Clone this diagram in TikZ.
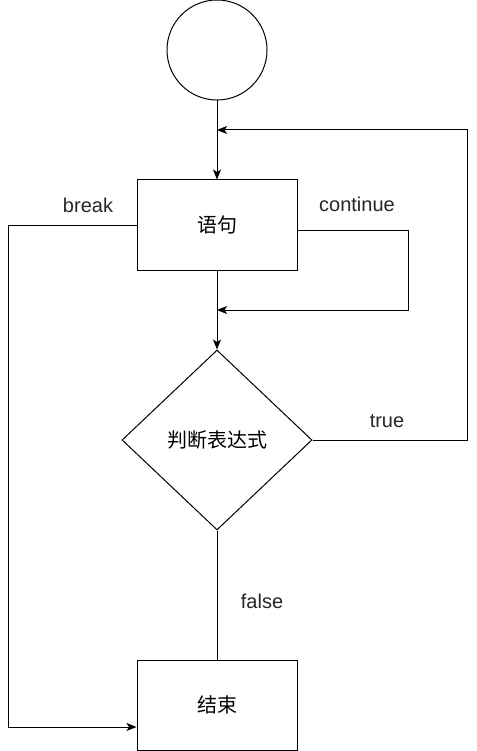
\documentclass[tikz,border=0pt]{standalone}
\usepackage{fontspec}
\setmainfont{Liberation Sans}
\newfontfamily\cjk{Noto Sans CJK SC}
\usepackage{tikz}
\usetikzlibrary{arrows.meta, positioning, shapes.geometric}

\tikzset{
  box/.style={draw=black, line width=1pt, minimum width=160pt, minimum height=90pt, inner sep=0pt, font=\fontsize{20}{24}\selectfont\cjk},
  decide/.style={draw=black, line width=1pt, diamond, minimum width=190pt, minimum height=180pt, inner sep=0pt, font=\fontsize{20}{24}\selectfont\cjk},
  lbl/.style={font=\fontsize{20}{24}\selectfont, text=black!85},
  flow/.style={draw=black, line width=1pt},
  arr/.style={flow, -{Stealth[length=10pt, width=8pt, inset=2.5pt]}}
}

\begin{document}
\begin{tikzpicture}[x=1pt, y=-1pt]
\useasboundingbox (0,0) rectangle (476,751);
% nodes
\node[draw=black, line width=1pt, circle, minimum size=100pt, inner sep=0pt] (start) at (217,50) {};
\node[box] (stmt) at (217,225) {语句};
\node[decide] (cond) at (217,440) {判断表达式};
\node[box] (finish) at (217,705) {结束};
\coordinate (join1) at (217,130);
\coordinate (join2) at (217,310);
% labels
\node[lbl] (lbreak) at (88,205) {break};
\node[lbl] (lcont) at (357,204) {continue};
\node[lbl] (ltrue) at (387,421) {true};
\node[lbl] (lfalse) at (262,601) {false};
% main flow
\draw[arr] (start) -- (stmt);
\draw[arr] (stmt) -- (cond);
\draw[flow] (cond) -- (finish);
% loops
\draw[arr] (cond.east) -- (467,440) |- (join1);
\draw[arr] ([yshift=-5pt]stmt.east) -- (408,230) |- (join2);
\draw[arr] (stmt.west) -- (8,225) |- ([yshift=-22pt]finish.west);
\end{tikzpicture}
\end{document}
